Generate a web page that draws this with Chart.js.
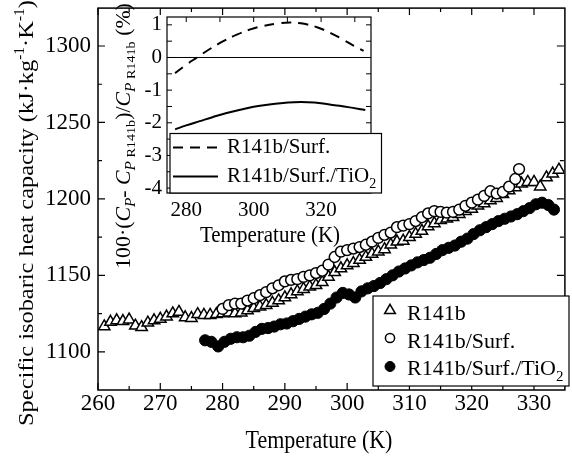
<!DOCTYPE html>
<html>
<head>
<meta charset="utf-8">
<script src="https://cdn.jsdelivr.net/npm/chart.js@4.4.1/dist/chart.umd.min.js"></script>
<style>
    body { margin: 0; background: #fff; }
    #wrap { position: relative; width: 572px; height: 456px; }
    #wrap canvas { position: absolute; left: 0; top: 0; }
</style>
</head>
<body>
<div id="wrap">
    <canvas id="mainChart" width="572" height="456"></canvas>
    <canvas id="insetChart" width="572" height="456"></canvas>
</div>
<script>
// ---- main plot data ----
const seriesLabels = ['R141b', 'R141b/Surf.', 'R141b/Surf./TiO'];

const tempR141b = [261, 262, 263, 264, 265, 266, 267, 268, 269, 270, 271, 272, 273, 274, 275, 276, 277, 278, 279, 280,
    281, 282, 283, 284, 285, 286, 287, 288, 289, 290, 291, 292, 293, 294, 295, 296, 297, 298, 299, 300,
    301, 302, 303, 304, 305, 306, 307, 308, 309, 310, 311, 312, 313, 314, 315, 316, 317, 318, 319, 320,
    321, 322, 323, 324, 325, 326, 327, 328, 329, 330, 331, 332, 333, 334];
const cpR141b = [1116.5, 1119.5, 1120.5, 1120, 1121, 1117, 1116, 1119, 1120.5, 1121.5, 1123, 1125, 1126, 1122.5, 1122, 1124.5, 1124, 1124, 1124.5, 1125,
    1125.5, 1125, 1125.5, 1127, 1128.5, 1129.5, 1130.5, 1132, 1133.5, 1135.5, 1137.5, 1139.5, 1141, 1142.5, 1143.5, 1145.5, 1149, 1152, 1154.5, 1156.5,
    1158, 1160, 1162, 1164, 1165.5, 1167, 1170, 1172, 1172.5, 1175, 1177, 1179, 1182, 1184, 1186, 1187, 1188, 1190, 1192, 1193.5,
    1195.5, 1197, 1199, 1200.5, 1203, 1205.5, 1207.5, 1210, 1211, 1211, 1208, 1214, 1216.5, 1219];

const tempSurf = [280, 281, 282, 283, 284, 285, 286, 287, 288, 289, 290, 291, 292, 293, 294, 295, 296, 297, 298, 299,
    300, 301, 302, 303, 304, 305, 306, 307, 308, 309, 310, 311, 312, 313, 314, 315, 316, 317, 318, 319,
    320, 321, 322, 323, 324, 325, 326, 327, 327.6];
const cpSurf = [1128, 1130.5, 1131.5, 1131.5, 1133.5, 1135, 1137, 1139, 1141.5, 1143.5, 1146, 1147, 1147.5, 1149, 1150, 1151.5, 1153, 1157, 1162, 1165.5,
    1166.5, 1167.5, 1168.5, 1170, 1172, 1174.5, 1176.5, 1178, 1181.5, 1182.5, 1183.5, 1185.5, 1188, 1190.5, 1192, 1191.5, 1191, 1191.5, 1193, 1195.5,
    1197.5, 1199.5, 1202, 1205, 1203.5, 1204.5, 1208, 1213, 1219.5];

const tempTiO2 = [277.2, 278.2, 279.3, 280.3, 281.3, 282.3, 283.3, 284.3, 285.3, 286.3, 287.3, 288.3, 289.3, 290.3, 291.3, 292.3, 293.3, 294.3, 295.3, 296.3,
    297.3, 298.3, 299.3, 300.3, 301.3, 302.3, 303.3, 304.3, 305.3, 306.3, 307.3, 308.3, 309.3, 310.3, 311.3, 312.3, 313.3, 314.3, 315.3, 316.3,
    317.3, 318.3, 319.3, 320.3, 321.3, 322.3, 323.3, 324.3, 325.3, 326.3, 327.3, 328.3, 329.3, 330.3, 331.3, 332.3, 333.2];
const cpTiO2 = [1107.5, 1106.5, 1103.5, 1106.5, 1108.5, 1109.5, 1109.5, 1110.5, 1113, 1115, 1115.5, 1116.5, 1118, 1118.5, 1120, 1121.5, 1123, 1124.5, 1125.5, 1128,
    1131.5, 1135.5, 1138.5, 1137.5, 1135.5, 1139.5, 1141.5, 1143, 1145, 1147.5, 1150, 1152.5, 1154.5, 1156.5, 1158.5, 1160, 1161.5, 1164, 1166.5, 1168,
    1169.5, 1172, 1174, 1177, 1179.5, 1181.5, 1183.5, 1185.5, 1187, 1188.5, 1190, 1192, 1194, 1196.5, 1197.5, 1196, 1193];

const xTicks = [260, 270, 280, 290, 300, 310, 320, 330];
const xMinorTicks = [265, 275, 285, 295, 305, 315, 325];
const yTicks = [1100, 1150, 1200, 1250, 1300];
const yMinorTicks = [1125, 1175, 1225, 1275];

// ---- inset data: relative deviation (%) ----
const insetTempSurf = [276.7, 280, 283.2, 287, 291, 295, 299, 303, 307, 311, 315, 319, 323, 327, 330, 332.6];
const devSurf = [-0.48, -0.22, 0, 0.26, 0.5, 0.7, 0.86, 0.97, 1.04, 1.07, 1.03, 0.92, 0.74, 0.52, 0.34, 0.2];
const insetTempTiO2 = [276.7, 280, 284, 288, 292, 296, 300, 304, 308, 312, 316, 320, 324, 328, 333.1];
const devTiO2 = [-2.2, -2.08, -1.95, -1.82, -1.7, -1.6, -1.51, -1.45, -1.4, -1.37, -1.37, -1.4, -1.46, -1.52, -1.61];

const insetXTicks = [280, 300, 320];
const insetXMinor = [290, 310, 330];
const insetYTicks = [-4, -3, -2, -1, 0, 1];
const insetYMinor = [-3.5, -2.5, -1.5, -0.5, 0.5];

const SERIF = "'Liberation Serif', 'Times New Roman', serif";
Chart.defaults.font.family = SERIF;
Chart.defaults.color = '#000';

function toPoints(xs, ys) {
    return xs.map((x, i) => ({ x: x, y: ys[i] }));
}

// fixed axis box size, no extra padding from the labels
function fixedAxis(size) {
    return function (scale) {
        if (scale.isHorizontal()) scale.height = size; else scale.width = size;
        scale.paddingLeft = 0; scale.paddingRight = 0;
        scale.paddingTop = 0; scale.paddingBottom = 0;
    };
}
function tickSetter(values) {
    return function (scale) { scale.ticks = values.map(v => ({ value: v })); };
}

// text with sub/superscripts; segs: {t, size, italic, dy}
function segFont(s, base) {
    return (s.italic ? 'italic ' : '') + (s.size || base) + 'px ' + SERIF;
}
function drawRich(ctx, segs, base, x, y, align) {
    let w = 0;
    segs.forEach(s => { ctx.font = segFont(s, base); w += ctx.measureText(s.t).width; });
    let cx = align === 'center' ? x - w / 2 : x;
    ctx.textAlign = 'left';
    ctx.textBaseline = 'alphabetic';
    ctx.fillStyle = '#000';
    segs.forEach(s => {
        ctx.font = segFont(s, base);
        ctx.fillText(s.t, cx, y + (s.dy || 0));
        cx += ctx.measureText(s.t).width;
    });
}
function drawHorizontalTitle(ctx, segs, base, cx, baseline, stretch) {
    ctx.save();
    ctx.translate(cx, baseline);
    ctx.scale(1, stretch);
    drawRich(ctx, segs, base, 0, 0, 'center');
    ctx.restore();
}
function drawVerticalTitle(ctx, segs, base, baselineX, cy, stretch) {
    ctx.save();
    ctx.translate(baselineX, cy);
    ctx.rotate(-Math.PI / 2);
    ctx.scale(stretch, 1);
    drawRich(ctx, segs, base, 0, 0, 'center');
    ctx.restore();
}

// inward tick marks on all four sides
function drawFrameTicks(chart, xMajor, xMinor, yMajor, yMinor, majLen, minLen) {
    const { ctx, chartArea: a, scales: { x, y } } = chart;
    ctx.beginPath();
    xMajor.map(v => [v, majLen]).concat(xMinor.map(v => [v, minLen])).forEach(([v, len]) => {
        const px = x.getPixelForValue(v);
        ctx.moveTo(px, a.bottom); ctx.lineTo(px, a.bottom - len);
        ctx.moveTo(px, a.top); ctx.lineTo(px, a.top + len);
    });
    yMajor.map(v => [v, majLen]).concat(yMinor.map(v => [v, minLen])).forEach(([v, len]) => {
        const py = y.getPixelForValue(v);
        ctx.moveTo(a.left, py); ctx.lineTo(a.left + len, py);
        ctx.moveTo(a.right, py); ctx.lineTo(a.right - len, py);
    });
    ctx.stroke();
}

function drawMarker(ctx, ds, x, y, radius) {
    ctx.save();
    ctx.fillStyle = ds.backgroundColor;
    ctx.strokeStyle = ds.borderColor;
    ctx.lineWidth = ds.borderWidth;
    Chart.helpers.drawPoint(ctx, { pointStyle: ds.pointStyle, radius: radius, borderWidth: ds.borderWidth, rotation: 0 }, x, y);
    ctx.restore();
}

const mainDecor = {
    id: 'mainDecor',
    afterDraw(chart) {
        const { ctx, chartArea: a } = chart;
        ctx.save();
        ctx.strokeStyle = '#000';
        ctx.lineWidth = 1.5;
        ctx.strokeRect(a.left, a.top, a.right - a.left + 1, a.bottom - a.top);
        ctx.lineWidth = 1.2;
        drawFrameTicks(chart, xTicks, xMinorTicks, yTicks, yMinorTicks, 7, 4);

        // axis titles
        drawHorizontalTitle(ctx, [{ t: 'Temperature (K)' }], 22, 319, 448, 1.12);
        drawVerticalTitle(ctx, [
            { t: 'Specific isobaric heat capacity (kJ\u00b7kg' },
            { t: '-1', size: 14, dy: -9 },
            { t: '\u00b7K' },
            { t: '-1', size: 14, dy: -9 },
            { t: ')' }
        ], 22, 32.5, 213, 1.11);

        // legend
        ctx.fillStyle = '#fff';
        ctx.fillRect(373, 296, 196, 90);
        ctx.strokeStyle = '#000';
        ctx.lineWidth = 1.2;
        ctx.strokeRect(373, 296, 196, 90);
        const rows = [
            { idx: 0, my: 310.5, base: 320, r: 6.2 },
            { idx: 1, my: 338, base: 348.3, r: 4.6 },
            { idx: 2, my: 366.5, base: 375, r: 5 }
        ];
        rows.forEach(row => {
            const ds = chart.data.datasets[row.idx];
            drawMarker(ctx, ds, 390, row.my, row.r);
            const segs = [{ t: seriesLabels[row.idx] }];
            if (row.idx === 2) segs.push({ t: '2', size: 15, dy: 6 });
            drawRich(ctx, segs, 22, 407, row.base, 'left');
        });
        ctx.restore();
    }
};

new Chart(document.getElementById('mainChart'), {
    type: 'scatter',
    data: {
        datasets: [
            {
                label: seriesLabels[0], data: toPoints(tempR141b, cpR141b), order: 3,
                pointStyle: 'triangle', pointRadius: 6.6, borderWidth: 1.5,
                backgroundColor: '#fff', borderColor: '#000'
            },
            {
                label: seriesLabels[1], data: toPoints(tempSurf, cpSurf), order: 2,
                pointStyle: 'circle', pointRadius: 5.4, borderWidth: 1.5,
                backgroundColor: '#fff', borderColor: '#000'
            },
            {
                label: seriesLabels[2] + '2', data: toPoints(tempTiO2, cpTiO2), order: 1,
                pointStyle: 'circle', pointRadius: 5.6, borderWidth: 1,
                backgroundColor: '#000', borderColor: '#000'
            }
        ]
    },
    options: {
        responsive: false,
        animation: false,
        events: [],
        layout: { padding: { left: 0, top: 7, right: 0, bottom: 0 } },
        plugins: { legend: { display: false }, tooltip: { enabled: false } },
        scales: {
            x: {
                type: 'linear', min: 260, max: 334.8,
                afterBuildTicks: tickSetter(xTicks), afterFit: fixedAxis(66),
                grid: { display: false, drawTicks: false }, border: { display: false },
                ticks: { font: { size: 23 }, padding: 0, maxRotation: 0, autoSkip: false, callback: v => String(v) }
            },
            y: {
                type: 'linear', min: 1075, max: 1324.8,
                afterBuildTicks: tickSetter(yTicks), afterFit: fixedAxis(98),
                grid: { display: false, drawTicks: false }, border: { display: false },
                ticks: { font: { size: 23 }, padding: 7, autoSkip: false, callback: v => String(v) }
            }
        }
    },
    plugins: [mainDecor]
});

// ---- inset ----
const insetDecor = {
    id: 'insetDecor',
    beforeDatasetsDraw(chart) {
        const { ctx, chartArea: a, scales: { y } } = chart;
        ctx.save();
        ctx.strokeStyle = '#000';
        ctx.lineWidth = 1;
        const y0 = y.getPixelForValue(0);
        ctx.beginPath();
        ctx.moveTo(a.left, y0); ctx.lineTo(a.right, y0);
        ctx.stroke();
        ctx.restore();
    },
    afterDraw(chart) {
        const { ctx, chartArea: a } = chart;
        ctx.save();
        ctx.strokeStyle = '#000';
        ctx.lineWidth = 1.2;
        ctx.strokeRect(a.left, a.top, a.right - a.left, a.bottom - a.top);
        ctx.lineWidth = 1;
        drawFrameTicks(chart, insetXTicks, insetXMinor, insetYTicks, insetYMinor, 5, 5);

        drawHorizontalTitle(ctx, [{ t: 'Temperature (K)' }], 21, 270, 241.5, 1.1);
        drawVerticalTitle(ctx, [
            { t: '100\u00b7(' },
            { t: 'C', italic: true },
            { t: 'P', italic: true, size: 14, dy: 5 },
            { t: '- ' },
            { t: 'C', italic: true },
            { t: 'P', italic: true, size: 14, dy: 5 },
            { t: ' R141b', size: 13, dy: 5 },
            { t: ')/' },
            { t: 'C', italic: true },
            { t: 'P', italic: true, size: 14, dy: 5 },
            { t: ' R141b', size: 13, dy: 5 },
            { t: ' (%)' }
        ], 20, 130, 136, 1.09);

        // inset legend
        ctx.fillStyle = '#fff';
        ctx.fillRect(170, 133.5, 211.5, 59.5);
        ctx.strokeStyle = '#000';
        ctx.lineWidth = 1.2;
        ctx.strokeRect(170, 133.5, 211.5, 59.5);
        const rows = [{ idx: 0, ly: 147.5, base: 153 }, { idx: 1, ly: 176.5, base: 181.5 }];
        rows.forEach(row => {
            const ds = chart.data.datasets[row.idx];
            ctx.save();
            ctx.strokeStyle = '#000';
            ctx.lineWidth = ds.borderWidth;
            ctx.setLineDash(ds.borderDash || []);
            ctx.beginPath();
            ctx.moveTo(173, row.ly); ctx.lineTo(218, row.ly);
            ctx.stroke();
            ctx.restore();
            const segs = [{ t: seriesLabels[row.idx + 1] }];
            if (row.idx === 1) segs.push({ t: '2', size: 14, dy: 6 });
            drawRich(ctx, segs, 21, 227, row.base, 'left');
        });
        ctx.restore();
    }
};

new Chart(document.getElementById('insetChart'), {
    type: 'scatter',
    data: {
        datasets: [
            {
                label: seriesLabels[1], data: toPoints(insetTempSurf, devSurf),
                showLine: true, pointRadius: 0, tension: 0.4, borderWidth: 2,
                borderDash: [10, 7], borderColor: '#000'
            },
            {
                label: seriesLabels[2] + '2', data: toPoints(insetTempTiO2, devTiO2),
                showLine: true, pointRadius: 0, tension: 0.4, borderWidth: 2,
                borderColor: '#000'
            }
        ]
    },
    options: {
        responsive: false,
        animation: false,
        events: [],
        layout: { padding: { left: 127, top: 17, right: 201, bottom: 233 } },
        plugins: { legend: { display: false }, tooltip: { enabled: false } },
        scales: {
            x: {
                type: 'linear', min: 274.3, max: 334.8,
                afterBuildTicks: tickSetter(insetXTicks), afterFit: fixedAxis(30),
                grid: { display: false, drawTicks: false }, border: { display: false },
                ticks: { font: { size: 21 }, padding: 5, maxRotation: 0, autoSkip: false, callback: v => String(v) }
            },
            y: {
                type: 'linear', min: -4.15, max: 1.24,
                afterBuildTicks: tickSetter(insetYTicks), afterFit: fixedAxis(40),
                grid: { display: false, drawTicks: false }, border: { display: false },
                ticks: { font: { size: 21 }, padding: 5, autoSkip: false, callback: v => String(v) }
            }
        }
    },
    plugins: [insetDecor]
});
</script>
</body>
</html>
